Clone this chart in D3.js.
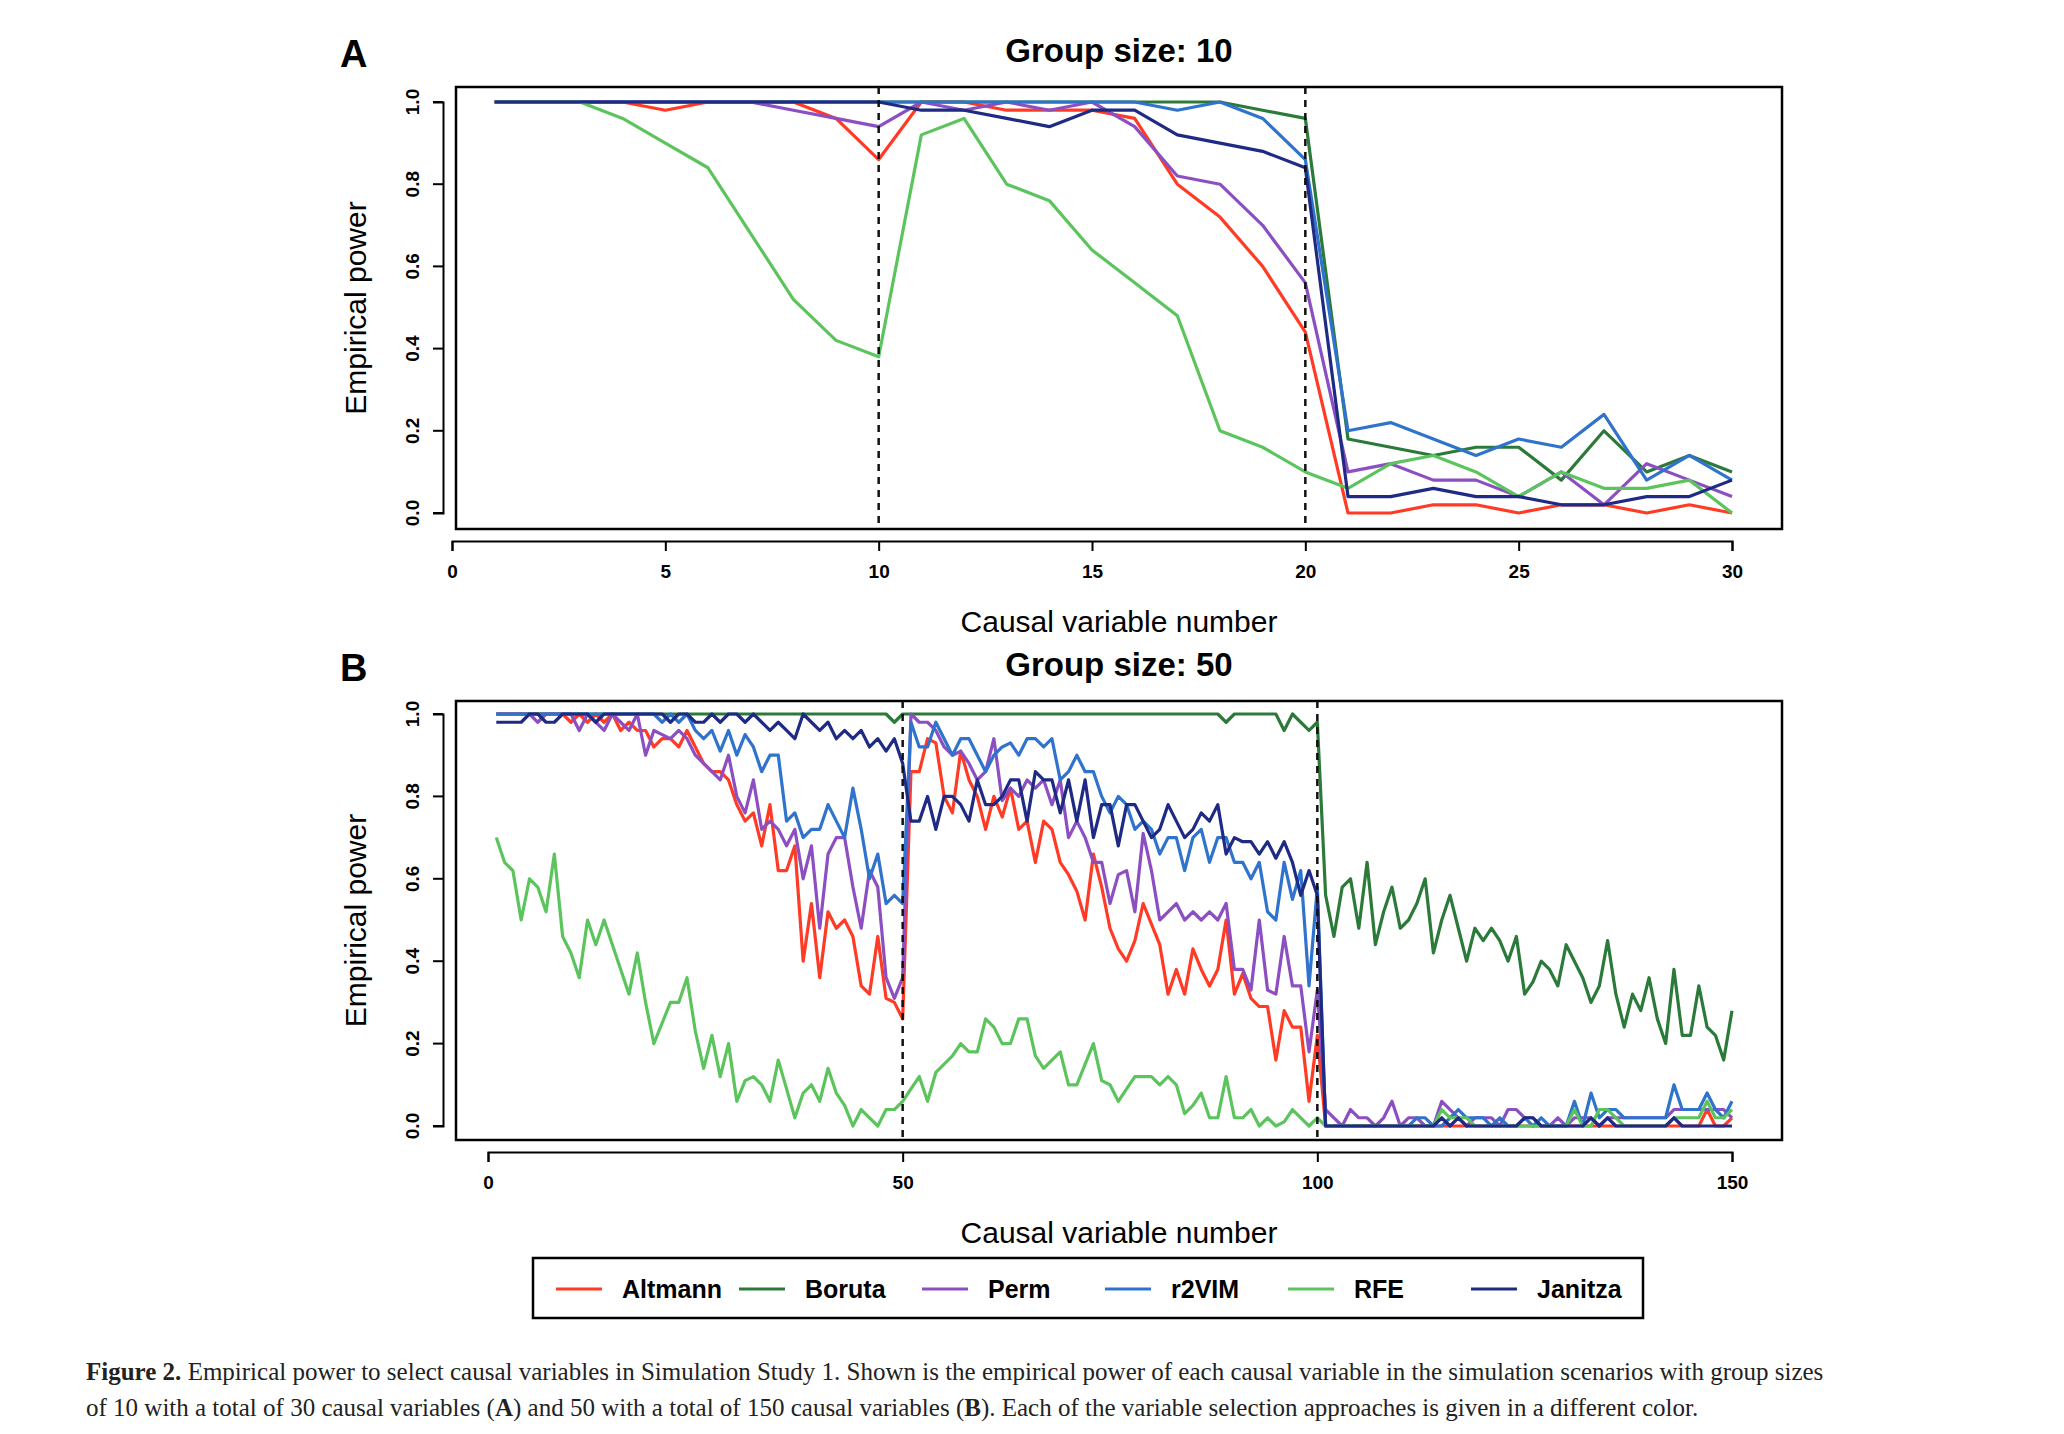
<!DOCTYPE html>
<html><head><meta charset="utf-8">
<script src="https://cdn.jsdelivr.net/npm/d3@7"></script>
<style>body{margin:0;background:#fff}</style></head>
<body><svg id="c" width="2064" height="1434"></svg>
<script>
const methods=["Altmann","Boruta","Perm","r2VIM","RFE","Janitza"];
const colors=["#ff3b26","#2c7a3a","#8c4fc2","#2f73cc","#5cc45c","#1e2a84"];
const xTicksA=[0,5,10,15,20,25,30];
const xTicksB=[0,50,100,150];
const yTicks=[0,0.2,0.4,0.6,0.8,1.0];
// Panel A (group size 10), variables 1..30
const A_Altmann=[1,1,1,1,0.98,1,1,1,0.96,0.86,1,1,0.98,0.98,0.98,0.96,0.80,0.72,0.60,0.44,0,0,0.02,0.02,0,0.02,0.02,0,0.02,0];
const A_Boruta=[1,1,1,1,1,1,1,1,1,1,1,1,1,1,1,1,1,1,0.98,0.96,0.18,0.16,0.14,0.16,0.16,0.08,0.20,0.10,0.14,0.10];
const A_Perm=[1,1,1,1,1,1,1,0.98,0.96,0.94,1,0.98,1,0.98,1,0.94,0.82,0.80,0.70,0.56,0.10,0.12,0.08,0.08,0.04,0.10,0.02,0.12,0.08,0.04];
const A_r2VIM=[1,1,1,1,1,1,1,1,1,1,1,1,1,1,1,1,0.98,1,0.96,0.86,0.20,0.22,0.18,0.14,0.18,0.16,0.24,0.08,0.14,0.08];
const A_RFE=[1,1,1,0.96,0.90,0.84,0.68,0.52,0.42,0.38,0.92,0.96,0.80,0.76,0.64,0.56,0.48,0.20,0.16,0.10,0.06,0.12,0.14,0.10,0.04,0.10,0.06,0.06,0.08,0];
const A_Janitza=[1,1,1,1,1,1,1,1,1,1,0.98,0.98,0.96,0.94,0.98,0.98,0.92,0.90,0.88,0.84,0.04,0.04,0.06,0.04,0.04,0.02,0.02,0.04,0.04,0.08];
// Panel B (group size 50), variables 1..150
const B_Altmann=[1,1,1,1,1,1,1,1,1,0.98,1,0.98,1,0.98,1,0.96,0.98,0.96,0.96,0.92,0.94,0.94,0.92,0.96,0.92,0.88,0.86,0.86,0.84,0.78,0.74,0.76,0.68,0.78,0.62,0.62,0.68,0.40,0.54,0.36,0.52,0.48,0.50,0.46,0.34,0.32,0.46,0.31,0.30,0.26,
0.86,0.86,0.94,0.93,0.80,0.76,0.91,0.84,0.80,0.72,0.80,0.75,0.82,0.72,0.74,0.64,0.74,0.72,0.64,0.61,0.57,0.50,0.66,0.58,0.48,0.43,0.40,0.45,0.54,0.49,0.44,0.32,0.38,0.32,0.43,0.38,0.34,0.38,0.50,0.32,0.37,0.31,0.29,0.29,0.16,0.28,0.24,0.24,0.06,0.22,
0,0,0,0,0,0,0,0,0,0,0,0,0,0,0,0,0,0,0,0,0,0,0,0,0,0,0,0,0,0,0,0,0,0,0,0,0,0,0,0,0,0,0,0,0,0,0.04,0,0,0.02];
const B_Boruta=[1,1,1,1,1,1,1,1,1,1,1,1,1,1,1,1,1,1,1,1,1,1,1,1,1,1,1,1,1,1,1,1,1,1,1,1,1,1,1,1,1,1,1,1,1,1,1,1,0.98,1,
1,1,1,1,1,1,1,1,1,1,1,1,1,1,1,1,1,1,1,1,1,1,1,1,1,1,1,1,1,1,1,1,1,1,1,1,1,1,0.98,1,1,1,1,1,1,0.96,1,0.98,0.96,0.98,
0.56,0.46,0.58,0.60,0.48,0.64,0.44,0.52,0.58,0.48,0.50,0.54,0.60,0.42,0.50,0.56,0.48,0.40,0.48,0.45,0.48,0.45,0.40,0.46,0.32,0.35,0.40,0.38,0.34,0.44,0.40,0.36,0.30,0.34,0.45,0.32,0.24,0.32,0.28,0.36,0.26,0.20,0.38,0.22,0.22,0.34,0.24,0.22,0.16,0.28];
const B_Perm=[1,1,1,1,1,0.98,1,1,1,1,0.96,1,0.98,0.96,1,0.98,0.96,1,0.90,0.96,0.95,0.94,0.96,0.94,0.90,0.88,0.86,0.84,0.90,0.80,0.76,0.84,0.72,0.74,0.72,0.68,0.72,0.60,0.68,0.48,0.66,0.70,0.70,0.58,0.48,0.62,0.58,0.36,0.31,0.36,
1,0.98,0.98,0.96,0.92,0.90,0.91,0.88,0.84,0.86,0.94,0.79,0.82,0.80,0.84,0.82,0.84,0.78,0.84,0.70,0.74,0.70,0.64,0.64,0.54,0.61,0.62,0.52,0.71,0.62,0.50,0.52,0.54,0.50,0.52,0.50,0.52,0.50,0.54,0.38,0.38,0.33,0.50,0.33,0.32,0.46,0.34,0.34,0.18,0.33,
0.04,0.02,0,0.04,0.02,0.02,0,0.02,0.06,0,0.02,0.02,0,0,0.06,0.04,0.02,0,0.02,0.02,0.02,0,0.04,0.04,0.02,0.02,0,0,0.02,0,0.02,0.02,0.02,0,0.02,0.02,0.02,0.02,0.02,0.02,0.02,0.02,0.04,0.04,0.04,0.04,0.04,0.04,0.04,0.02];
const B_r2VIM=[1,1,1,1,1,1,1,1,1,1,1,1,1,1,1,1,1,1,1,1,0.98,1,0.98,1,0.96,0.94,0.96,0.91,0.96,0.90,0.95,0.92,0.86,0.90,0.90,0.74,0.76,0.70,0.72,0.72,0.78,0.74,0.70,0.82,0.72,0.60,0.66,0.54,0.56,0.54,
0.98,0.92,0.92,0.98,0.94,0.90,0.94,0.94,0.90,0.86,0.90,0.92,0.93,0.90,0.94,0.94,0.92,0.94,0.84,0.86,0.90,0.86,0.86,0.80,0.76,0.80,0.78,0.72,0.74,0.72,0.66,0.70,0.70,0.62,0.70,0.72,0.64,0.70,0.70,0.64,0.64,0.60,0.64,0.52,0.50,0.64,0.55,0.62,0.34,0.58,
0,0,0,0,0,0,0,0,0,0,0,0.02,0.02,0,0,0.02,0.04,0.02,0.02,0.02,0,0.02,0,0,0.02,0,0.02,0,0,0,0.06,0,0.08,0.02,0.04,0.04,0.02,0.02,0.02,0.02,0.02,0.02,0.10,0.04,0.04,0.04,0.08,0.04,0.02,0.06];
const B_RFE=[0.70,0.64,0.62,0.50,0.60,0.58,0.52,0.66,0.46,0.42,0.36,0.50,0.44,0.50,0.44,0.38,0.32,0.42,0.30,0.20,0.25,0.30,0.30,0.36,0.23,0.14,0.22,0.12,0.20,0.06,0.11,0.12,0.10,0.06,0.16,0.09,0.02,0.08,0.10,0.06,0.14,0.08,0.05,0,0.04,0.02,0,0.04,0.04,0.06,
0.09,0.12,0.06,0.13,0.15,0.17,0.20,0.18,0.18,0.26,0.24,0.20,0.20,0.26,0.26,0.17,0.14,0.16,0.18,0.10,0.10,0.15,0.20,0.11,0.10,0.06,0.09,0.12,0.12,0.12,0.10,0.12,0.10,0.03,0.05,0.08,0.02,0.02,0.12,0.02,0.02,0.04,0,0.02,0,0.01,0.04,0.02,0,0.02,
0,0,0,0,0,0,0,0,0,0,0,0,0,0,0.04,0.02,0.02,0.02,0,0,0,0,0,0,0,0,0,0,0,0,0.04,0,0,0.04,0.04,0.02,0,0,0,0,0,0,0.02,0.02,0.02,0.02,0.06,0.02,0.02,0.04];
const B_Janitza=[0.98,0.98,0.98,0.98,1,1,0.98,0.98,1,1,1,1,0.98,1,1,1,1,1,1,1,1,0.98,1,1,0.98,0.98,1,0.98,1,1,0.98,1,0.98,0.96,0.98,0.96,0.94,1,0.98,0.96,0.98,0.94,0.96,0.94,0.96,0.92,0.94,0.91,0.94,0.88,
0.74,0.74,0.80,0.72,0.80,0.80,0.78,0.74,0.84,0.78,0.78,0.80,0.84,0.84,0.74,0.86,0.84,0.84,0.76,0.84,0.74,0.84,0.70,0.78,0.78,0.68,0.78,0.78,0.74,0.70,0.72,0.78,0.74,0.70,0.72,0.76,0.74,0.78,0.66,0.70,0.69,0.69,0.66,0.69,0.65,0.69,0.64,0.56,0.62,0.56,
0,0,0,0,0,0,0,0,0,0,0,0,0,0,0.02,0,0.02,0,0,0,0,0,0,0,0.02,0.02,0,0,0,0,0,0,0.02,0,0.02,0,0,0,0,0,0,0,0.02,0,0,0,0,0,0,0];
const seriesA=[A_Altmann,A_Boruta,A_Perm,A_r2VIM,A_RFE,A_Janitza];
const seriesB=[B_Altmann,B_Boruta,B_Perm,B_r2VIM,B_RFE,B_Janitza];
const svg=d3.select("#c");
const F="'Liberation Sans',Arial,sans-serif";

function panel(o){
  const x=d3.scaleLinear().domain(o.xdom).range([o.x0,o.x1]);
  const y=d3.scaleLinear().domain([0,1]).range([o.y0,o.y1]);
  const g=svg.append("g");
  g.append("rect").attr("x",o.bx0).attr("y",o.by0).attr("width",o.bx1-o.bx0).attr("height",o.by1-o.by0).attr("fill","none").attr("stroke","#000").attr("stroke-width",2.5);
  const line=d3.line().x((d,i)=>x(i+1)).y(d=>y(d));
  o.series.forEach((s,k)=>g.append("path").datum(s).attr("d",line).attr("fill","none").attr("stroke",colors[k]).attr("stroke-width",3.2).attr("stroke-linejoin","round"));
  o.vlines.forEach(v=>g.append("line").attr("x1",x(v)).attr("x2",x(v)).attr("y1",o.by0).attr("y2",o.by1).attr("stroke","#111").attr("stroke-width",2.5).attr("stroke-dasharray","7,6"));
  const xa=g.append("g").attr("transform",`translate(0,${o.by1+12})`).call(d3.axisBottom(x).tickValues(o.xticks).tickSize(10).tickPadding(14).tickFormat(d3.format("d")));
  xa.selectAll("path,line").attr("stroke","#000").attr("stroke-width",2);
  xa.selectAll("text").attr("font-family",F).attr("font-weight","bold").attr("font-size",19);
  const ya=g.append("g").attr("transform",`translate(${o.bx0-13},0)`).call(d3.axisLeft(y).tickValues(yTicks).tickSize(10).tickPadding(10).tickFormat(d3.format(".1f")));
  ya.selectAll("path,line").attr("stroke","#000").attr("stroke-width",2);
  ya.selectAll("text").attr("font-family",F).attr("font-weight","bold").attr("font-size",19)
    .attr("text-anchor","middle").attr("dy","0").attr("transform",function(d){return `translate(-24,${y(d)}) rotate(-90)`;}).attr("x",0).attr("y",0);
  ya.selectAll(".tick").attr("transform",null);
  ya.selectAll(".tick line").attr("y1",d=>y(d)).attr("y2",d=>y(d));
  g.append("text").attr("x",(o.bx0+o.bx1)/2).attr("y",o.by0-25).attr("text-anchor","middle").attr("font-family",F).attr("font-weight","bold").attr("font-size",33).text(o.title);
  g.append("text").attr("x",340).attr("y",o.by0-20).attr("font-family",F).attr("font-weight","bold").attr("font-size",38).text(o.letter);
  g.append("text").attr("x",(o.bx0+o.bx1)/2).attr("y",o.by1+103).attr("text-anchor","middle").attr("font-family",F).attr("font-size",30).text("Causal variable number");
  g.append("text").attr("transform",`translate(366,${(o.by0+o.by1)/2}) rotate(-90)`).attr("text-anchor","middle").attr("font-family",F).attr("font-size",30).text("Empirical power");
}
panel({xdom:[0,30],x0:452,x1:1732,y0:513,y1:102,bx0:456,bx1:1782,by0:87,by1:529,series:seriesA,vlines:[10,20],xticks:xTicksA,title:"Group size: 10",letter:"A"});
panel({xdom:[0,150],x0:488,x1:1732,y0:1126,y1:714,bx0:456,bx1:1782,by0:701,by1:1140,series:seriesB,vlines:[50,100],xticks:xTicksB,title:"Group size: 50",letter:"B"});

// legend
const lg=svg.append("g");
lg.append("rect").attr("x",533).attr("y",1258).attr("width",1110).attr("height",60).attr("fill","none").attr("stroke","#000").attr("stroke-width",2.5);
const lx=d3.scalePoint().domain(methods).range([556,1471]);
methods.forEach((m,i)=>{
  lg.append("line").attr("x1",lx(m)).attr("x2",lx(m)+46).attr("y1",1289).attr("y2",1289).attr("stroke",colors[i]).attr("stroke-width",3.2);
  lg.append("text").attr("x",lx(m)+66).attr("y",1298).attr("font-family",F).attr("font-weight","bold").attr("font-size",25).text(m);
});
// caption
const cap=svg.append("text").attr("font-family","'Liberation Serif','DejaVu Serif',serif").attr("font-size",25).attr("fill","#222");
const l1=cap.append("tspan").attr("x",86).attr("y",1380);
l1.append("tspan").attr("font-weight","bold").text("Figure 2. ");
l1.append("tspan").text("Empirical power to select causal variables in Simulation Study 1. Shown is the empirical power of each causal variable in the simulation scenarios with group sizes");
const l2=cap.append("tspan").attr("x",86).attr("y",1416);
l2.append("tspan").text("of 10 with a total of 30 causal variables (");
l2.append("tspan").attr("font-weight","bold").text("A");
l2.append("tspan").text(") and 50 with a total of 150 causal variables (");
l2.append("tspan").attr("font-weight","bold").text("B");
l2.append("tspan").text("). Each of the variable selection approaches is given in a different color.");
</script></body></html>
